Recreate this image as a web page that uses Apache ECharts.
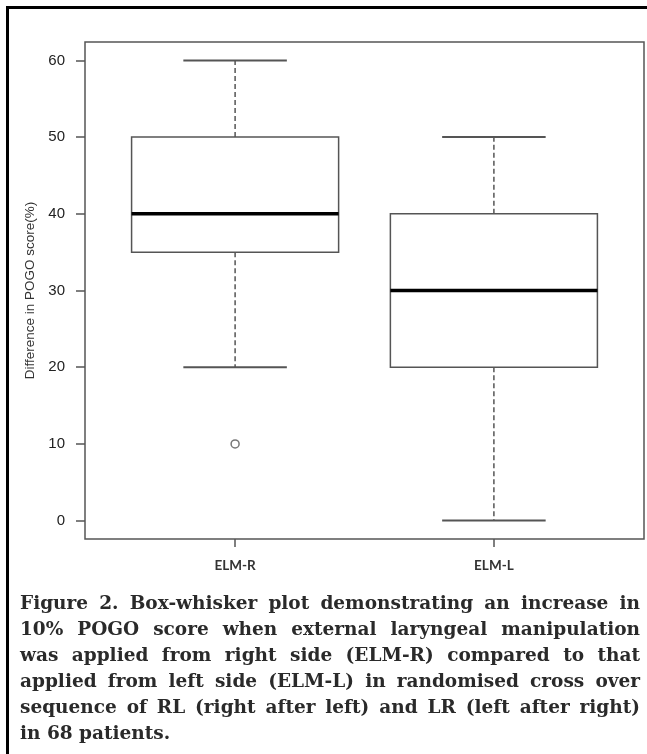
<!DOCTYPE html>
<html>
<head>
<meta charset="utf-8">
<script src="https://cdn.jsdelivr.net/npm/echarts@6/dist/echarts.min.js"></script>
<style>
  html, body { margin: 0; padding: 0; background: #fff; }
  #wrap { position: relative; width: 647px; height: 754px; overflow: hidden; background: #fff; }
  #frame { position: absolute; left: 6px; top: 6px; width: 660px; height: 760px; border-left: 3px solid #000; border-top: 3px solid #000; box-sizing: border-box; }
  #chart { position: absolute; left: 0; top: 0; width: 647px; height: 600px; }
  #caption { position: absolute; left: 20px; top: 590px; width: 620px; font-family: "DejaVu Serif", serif; font-weight: bold; font-size: 18.5px; line-height: 26px; color: #2a2a2a; }
  #caption div { text-align: justify; text-align-last: justify; white-space: nowrap; }
  #caption div.last { text-align-last: left; }
</style>
</head>
<body>
<div id="wrap">
  <div id="frame"></div>
  <div id="chart"></div>
  <div id="caption">
    <div>Figure 2. Box-whisker plot demonstrating an increase in</div>
    <div>10% POGO score when external laryngeal manipulation</div>
    <div>was applied from right side (ELM-R) compared to that</div>
    <div>applied from left side (ELM-L) in randomised cross over</div>
    <div>sequence of RL (right after left) and LR (left after right)</div>
    <div class="last">in 68 patients.</div>
  </div>
</div>
<script>
// ---- data ----
const categories = ['ELM-R', 'ELM-L'];
const whiskerLow = [20, 0];
const q1 = [35, 20];
const median = [40, 30];
const q3 = [50, 40];
const whiskerHigh = [60, 50];
const outliers = [[0, 10]]; // [category index, value]
const yTicks = [0, 10, 20, 30, 40, 50, 60];
const yName = 'Difference in POGO score(%)';

const boxData = categories.map((c, i) => [i + 1, whiskerLow[i], q1[i], median[i], q3[i], whiskerHigh[i]]);
const outlierData = outliers.map(o => [o[0] + 1, o[1]]);

const chart = echarts.init(document.getElementById('chart'), null, { renderer: 'canvas' });
const lineCol = '#555';

chart.setOption({
  animation: false,
  backgroundColor: 'transparent',
  grid: { left: 85, top: 42, width: 559, height: 497, show: true, borderColor: lineCol, borderWidth: 1.5, backgroundColor: 'transparent' },
  xAxis: {
    type: 'value', min: 0.42, max: 2.58,
    splitLine: { show: false },
    axisLine: { show: false, onZero: false },
    axisTick: { show: true, inside: false, length: 8, customValues: [1, 2], lineStyle: { color: lineCol, width: 1.5 } },
    axisLabel: { show: true, customValues: [1, 2], margin: 20, formatter: v => categories[Math.round(v) - 1] || '',
      fontFamily: 'Lato, sans-serif', fontSize: 13.5, fontWeight: 'bold', color: '#333' }
  },
  yAxis: {
    type: 'value', min: -2.4, max: 62.4,
    name: yName, nameLocation: 'middle', nameRotate: 90, nameGap: 47,
    nameTextStyle: { fontFamily: 'Liberation Sans, Arial, sans-serif', fontSize: 13.5, color: '#333' },
    splitLine: { show: false },
    axisLine: { show: false, onZero: false },
    axisTick: { show: true, inside: false, length: 9, customValues: yTicks, lineStyle: { color: lineCol, width: 1.5 } },
    axisLabel: { show: true, customValues: yTicks, margin: 20, formatter: v => String(v),
      fontFamily: 'Liberation Sans, Arial, sans-serif', fontSize: 15, color: '#222' }
  },
  series: [
    {
      type: 'custom',
      data: boxData,
      renderItem: function (params, api) {
        const x = api.value(0);
        const lo = api.value(1), b1 = api.value(2), md = api.value(3), b3 = api.value(4), hi = api.value(5);
        const bw = 0.4, cw = 0.2;
        const pL = api.coord([x - bw, b3]), pR = api.coord([x + bw, b1]);
        const c = (v) => api.coord([x, v]);
        const children = [];
        children.push({ type: 'line', shape: { x1: c(b3)[0], y1: c(b3)[1], x2: c(hi)[0], y2: c(hi)[1] }, style: { stroke: lineCol, lineWidth: 1.5, lineDash: [5, 3] } });
        children.push({ type: 'line', shape: { x1: c(b1)[0], y1: c(b1)[1], x2: c(lo)[0], y2: c(lo)[1] }, style: { stroke: lineCol, lineWidth: 1.5, lineDash: [5, 3] } });
        [hi, lo].forEach(v => {
          const a = api.coord([x - cw, v]), b = api.coord([x + cw, v]);
          children.push({ type: 'line', shape: { x1: a[0], y1: a[1], x2: b[0], y2: b[1] }, style: { stroke: lineCol, lineWidth: 2 } });
        });
        children.push({ type: 'rect', shape: { x: pL[0], y: pL[1], width: pR[0] - pL[0], height: pR[1] - pL[1] }, style: { fill: '#fff', stroke: lineCol, lineWidth: 1.5 } });
        const m1 = api.coord([x - bw, md]), m2 = api.coord([x + bw, md]);
        children.push({ type: 'line', shape: { x1: m1[0], y1: m1[1], x2: m2[0], y2: m2[1] }, style: { stroke: '#000', lineWidth: 3.5 } });
        return { type: 'group', children: children };
      }
    },
    {
      type: 'scatter',
      data: outlierData,
      symbol: 'circle',
      symbolSize: 8,
      itemStyle: { color: '#fff', borderColor: lineCol, borderWidth: 1.5 }
    }
  ]
});
</script>
</body>
</html>
